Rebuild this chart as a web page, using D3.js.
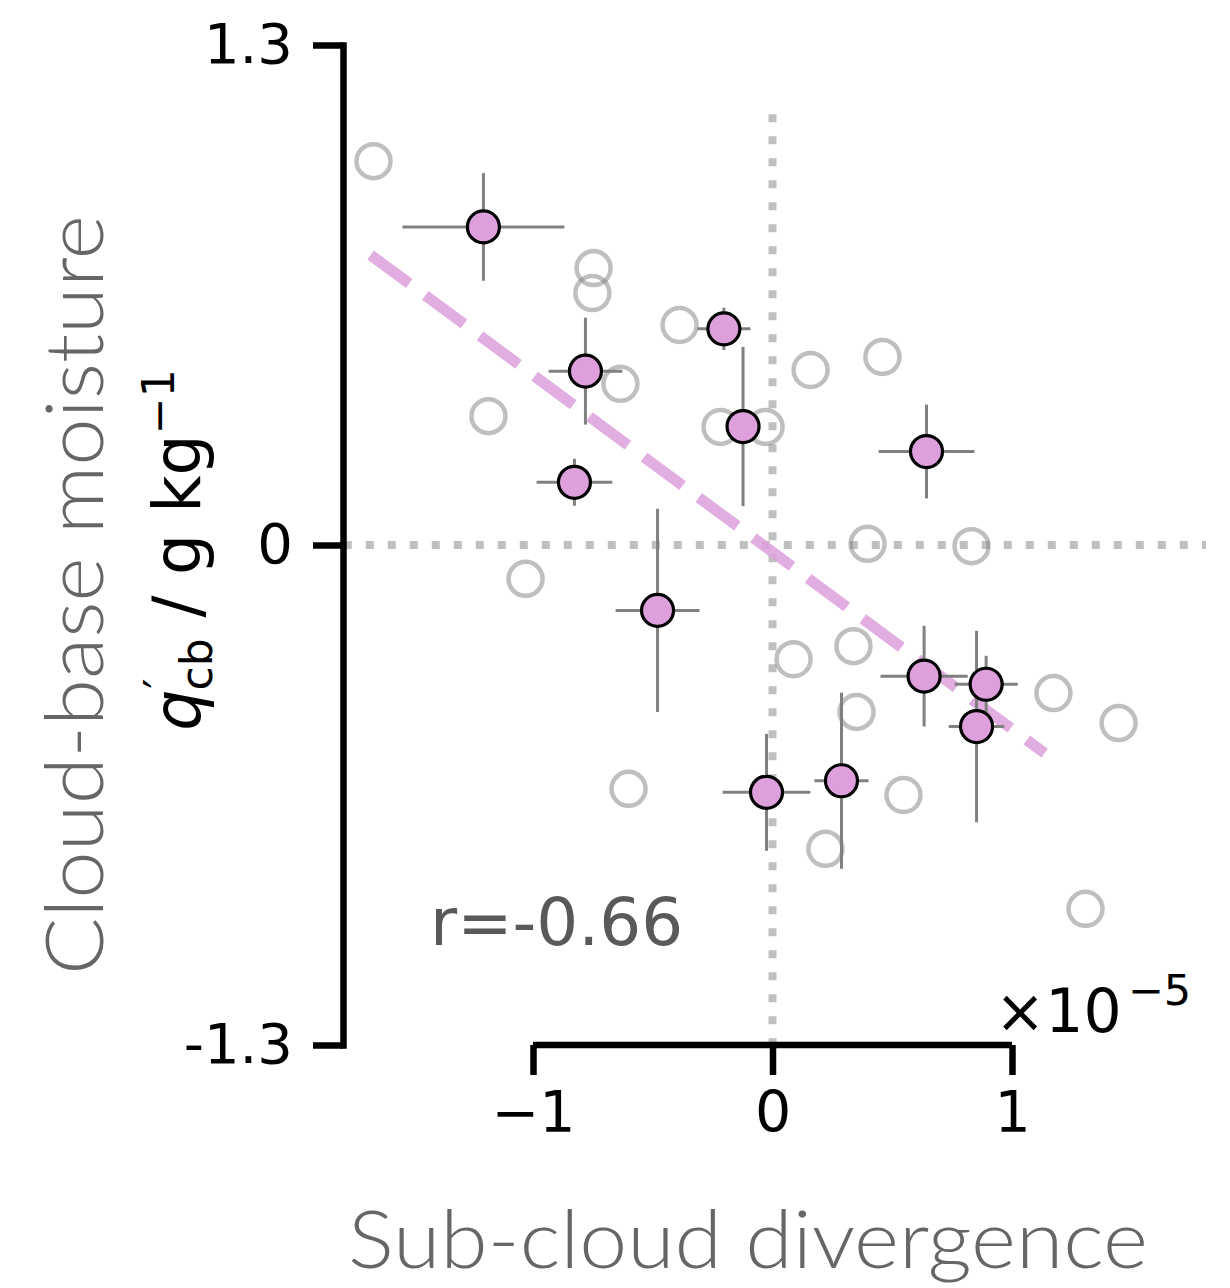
<!DOCTYPE html>
<html>
<head>
<meta charset="utf-8">
<script src="https://cdn.jsdelivr.net/npm/d3@7"></script>
<style>
  body { margin: 0; background: #fff; }
  svg { display: block; }
</style>
</head>
<body>
<svg id="chart" width="1230" height="1288"></svg>
<script>
"use strict";

// Highlighted cases (divergence in 1e-5 units, moisture anomaly in g/kg)
const pinkX    = [-1.207, -0.203, -0.781, -0.123, 0.643, -0.827, -0.480, 0.633, 0.892, 0.852, 0.288, -0.025];
const pinkY    = [0.827, 0.562, 0.452, 0.308, 0.243, 0.163, -0.170, -0.341, -0.362, -0.472, -0.613, -0.643];
const pinkXErr = [0.338, 0.111, 0.154, 0.050, 0.200, 0.158, 0.175, 0.182, 0.132, 0.116, 0.113, 0.183];
const pinkYErr = [0.140, 0.055, 0.139, 0.207, 0.122, 0.061, 0.264, 0.131, 0.074, 0.249, 0.229, 0.152];

// Background cases (open gray circles)
const grayX = [-1.666, -0.747, -0.752, -0.388, -0.635, -1.186, -0.217, -0.029, 0.159, 0.459, 0.397,
               0.831, -1.031, 0.088, 0.338, 0.351, 0.547, 0.221, 1.173, 1.445, -0.601, 1.307];
const grayY = [0.998, 0.720, 0.655, 0.572, 0.419, 0.335, 0.307, 0.307, 0.455, 0.489, 0.003,
               -0.003, -0.088, -0.297, -0.263, -0.434, -0.650, -0.790, -0.385, -0.463, -0.634, -0.946];

// Regression line end points
const fitX = [-1.678, 1.136];
const fitY = [0.754, -0.541];

// Zero guide extents
const guideXSpan = [-1.79, 1.81];
const guideYSpan = [-1.3, 1.12];

// Ticks
const xTicks = [-1, 0, 1];
const yTicks = [-1.3, 0, 1.3];
const yTickLabels = ["-1.3", "0", "1.3"];

const corrLabel = "r=-0.66";

const svg = d3.select("#chart");

const x = d3.scaleLinear().domain([-1, 1]).range([533, 1012]);
const y = d3.scaleLinear().domain([-1.3, 1.3]).range([1045, 45]);

const pink = "#dda0dd";
const labelFont = "Lato, 'Open Sans', sans-serif";
const tickFont = "'DejaVu Sans', sans-serif";

// Dotted zero lines
const guides = svg.append("g")
    .attr("stroke", "#c0c0c0")
    .attr("stroke-width", 8)
    .attr("stroke-dasharray", "8,14");
guides.append("line")
    .attr("x1", x(guideXSpan[0])).attr("x2", x(guideXSpan[1]))
    .attr("y1", y(0)).attr("y2", y(0));
guides.append("line")
    .attr("x1", x(0)).attr("x2", x(0))
    .attr("y1", y(guideYSpan[1])).attr("y2", y(guideYSpan[0]));

// Open gray circles
const grayData = grayX.map((v, i) => ({x: v, y: grayY[i]}));
svg.append("g").selectAll("circle")
    .data(grayData)
    .enter().append("circle")
        .attr("cx", d => x(d.x))
        .attr("cy", d => y(d.y))
        .attr("r", 17)
        .attr("fill", "none")
        .attr("stroke", "#808080")
        .attr("stroke-opacity", 0.5)
        .attr("stroke-width", 4.5);

// Dashed regression line
svg.append("path")
    .datum(fitX.map((v, i) => [v, fitY[i]]))
    .attr("d", d3.line().x(d => x(d[0])).y(d => y(d[1])))
    .attr("stroke", pink)
    .attr("stroke-opacity", 0.85)
    .attr("stroke-width", 11)
    .attr("stroke-dasharray", "48,20")
    .attr("fill", "none");

// Error bars
const pinkData = pinkX.map((v, i) => ({x: v, y: pinkY[i], xe: pinkXErr[i], ye: pinkYErr[i]}));
const bars = svg.append("g")
    .attr("stroke", "#808080")
    .attr("stroke-width", 3);
bars.selectAll("line.h")
    .data(pinkData)
    .enter().append("line")
        .attr("class", "h")
        .attr("x1", d => x(d.x - d.xe)).attr("x2", d => x(d.x + d.xe))
        .attr("y1", d => y(d.y)).attr("y2", d => y(d.y));
bars.selectAll("line.v")
    .data(pinkData)
    .enter().append("line")
        .attr("class", "v")
        .attr("x1", d => x(d.x)).attr("x2", d => x(d.x))
        .attr("y1", d => y(d.y - d.ye)).attr("y2", d => y(d.y + d.ye));

// Pink markers
svg.append("g").selectAll("circle")
    .data(pinkData)
    .enter().append("circle")
        .attr("cx", d => x(d.x))
        .attr("cy", d => y(d.y))
        .attr("r", 16)
        .attr("fill", pink)
        .attr("stroke", "#000")
        .attr("stroke-width", 3.2);

// Y axis
const yAxis = svg.append("g")
    .attr("transform", `translate(343,0)`)
    .call(d3.axisLeft(y)
        .tickValues(yTicks)
        .tickFormat((d, i) => yTickLabels[i])
        .tickSize(30)
        .tickSizeOuter(0)
        .tickPadding(20));
yAxis.select(".domain").attr("stroke-width", 6.5).attr("stroke-linecap", "square");
yAxis.selectAll(".tick line").attr("stroke-width", 6.5);
yAxis.selectAll(".tick text")
    .attr("font-family", tickFont)
    .attr("font-size", 56)
    .attr("fill", "#000");

// X axis (spine bounded to the tick range)
const xAxis = svg.append("g")
    .attr("transform", `translate(0,1045)`)
    .call(d3.axisBottom(x)
        .tickValues(xTicks)
        .tickFormat(d => d < 0 ? "\u2212" + Math.abs(d) : String(d))
        .tickSize(30)
        .tickSizeOuter(0)
        .tickPadding(17));
xAxis.select(".domain").remove();
xAxis.append("line")
    .attr("x1", x(xTicks[0])).attr("x2", x(xTicks[xTicks.length - 1]))
    .attr("stroke", "#000")
    .attr("stroke-width", 6.5);
xAxis.selectAll(".tick line").attr("stroke-width", 6.5);
xAxis.selectAll(".tick text")
    .attr("font-family", tickFont)
    .attr("font-size", 57)
    .attr("fill", "#000");

// Offset text ×10^-5
const offset = svg.append("text")
    .attr("x", 995)
    .attr("y", 1032)
    .attr("font-family", tickFont)
    .attr("font-size", 60)
    .attr("fill", "#000");
offset.append("tspan").text("\u00d710");
offset.append("tspan")
    .attr("font-size", 43)
    .attr("dy", -27)
    .attr("dx", 6)
    .text("\u22125");

// Correlation label
svg.append("text")
    .attr("x", 430)
    .attr("y", 945)
    .attr("font-family", tickFont)
    .attr("font-size", 66)
    .attr("fill", "#595959")
    .text(corrLabel);

// Axis labels
svg.append("text")
    .attr("transform", "translate(103,595) rotate(-90)")
    .attr("text-anchor", "middle")
    .attr("font-family", labelFont)
    .attr("font-weight", 300)
    .attr("font-size", 80)
    .attr("textLength", 760)
    .attr("lengthAdjust", "spacingAndGlyphs")
    .attr("fill", "#666")
    .text("Cloud-base moisture");

const unitLabel = svg.append("text")
    .attr("transform", "translate(200,550) rotate(-90)")
    .attr("text-anchor", "middle")
    .attr("font-family", tickFont)
    .attr("font-size", 65)
    .attr("fill", "#000");
unitLabel.append("tspan").attr("font-style", "italic").text("q");
unitLabel.append("tspan").attr("font-size", 44).attr("dy", -24).attr("dx", 1).text("\u2032");
unitLabel.append("tspan").attr("font-size", 44).attr("dy", 36).attr("dx", -12).text("cb");
unitLabel.append("tspan").attr("dy", -12).text(" / g kg");
unitLabel.append("tspan").attr("font-size", 44).attr("dy", -26).text("\u22121");

svg.append("text")
    .attr("x", 748)
    .attr("y", 1268)
    .attr("text-anchor", "middle")
    .attr("font-family", labelFont)
    .attr("font-weight", 300)
    .attr("font-size", 80)
    .attr("textLength", 800)
    .attr("lengthAdjust", "spacingAndGlyphs")
    .attr("fill", "#666")
    .text("Sub-cloud divergence");
</script>
</body>
</html>
